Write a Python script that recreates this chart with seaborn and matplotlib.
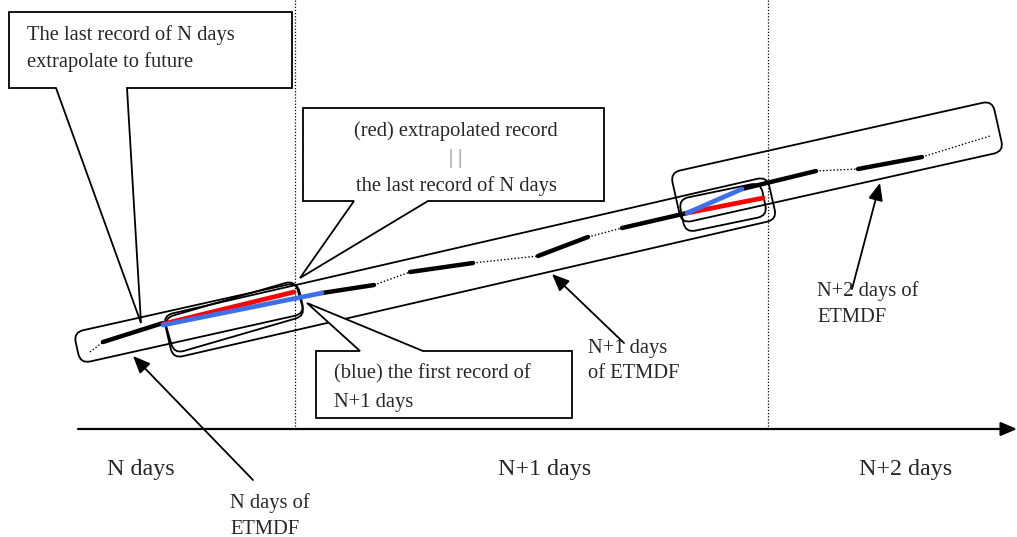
import numpy as np
import pandas as pd
import matplotlib
matplotlib.use("Agg")
import matplotlib.pyplot as plt
from matplotlib.patches import FancyBboxPatch, Polygon
from matplotlib.transforms import Affine2D
import seaborn as sns

# trajectory pieces (pixel coords of the sketch), each as ((x0, y0), (x1, y1))
track_solid = [((103, 342), (163, 323)), ((322, 293), (374, 285)),
               ((410, 272), (473, 263)), ((538, 256), (588, 237)),
               ((622, 228), (687, 213)), ((742, 189), (816, 171)),
               ((858, 169), (922, 157))]
track_dotted = [((90, 352), (103, 342)), ((374, 285), (410, 272)),
                ((473, 263), (538, 256)), ((588, 237), (622, 228)),
                ((816, 171), (858, 169)), ((922, 157), (990, 136))]
red_extrap = [((163, 324), (294, 292)), ((687, 213), (763, 198))]
blue_first = [((163, 325), (322, 293)), ((687, 213), (742, 189))]

# rounded bands: left centre, right centre, width
etmdf_bands = [((77, 348), (301, 298), 32),
               ((168, 337), (772, 198), 44),
               ((676, 198), (998, 126), 52)]
overlap_boxes = [((169, 336), (300, 298), 37),
                 ((682, 216), (764, 199), 34)]

day_edges = [295, 768]
day_labels = ["N days", "N+1 days", "N+2 days"]
day_label_x = [141, 545, 906]


def to_frame(segs):
    rows = []
    for i, (p0, p1) in enumerate(segs):
        rows.append({"seg": i, "x": p0[0], "y": p0[1]})
        rows.append({"seg": i, "x": p1[0], "y": p1[1]})
    return pd.DataFrame(rows)


def rounded_band(ax, p0, p1, w, r=10):
    dx, dy = p1[0] - p0[0], p1[1] - p0[1]
    length = np.hypot(dx, dy)
    ang = np.arctan2(dy, dx)
    patch = FancyBboxPatch((0, -w / 2), length, w,
                           boxstyle=f"round,pad=0,rounding_size={r}",
                           fc="none", ec="black", lw=1.3, zorder=2)
    patch.set_transform(Affine2D().rotate(ang).translate(p0[0], p0[1]) + ax.transData)
    ax.add_patch(patch)


sns.set_theme(style="white")
plt.rcParams["font.family"] = ["Liberation Serif", "DejaVu Serif"]

fig = plt.figure(figsize=(10.17, 5.37), dpi=100)
ax = fig.add_axes([0, 0, 1, 1])

# day boundaries
for xv in day_edges:
    ax.plot([xv, xv], [0, 430], color="black", lw=0.9, ls=(0, (1, 1.5)), zorder=1)

# time axis
ax.annotate("", xy=(1017, 429), xytext=(78, 429),
            arrowprops=dict(arrowstyle="-|>,head_length=0.7,head_width=0.3",
                            color="black", lw=1.6, mutation_scale=14,
                            shrinkA=0, shrinkB=0))

# ETMDF record trajectory
sns.lineplot(data=to_frame(track_dotted), x="x", y="y", units="seg", estimator=None,
             sort=False, color="black", lw=1.0, ls=(0, (1, 1.5)), ax=ax, zorder=3)
sns.lineplot(data=to_frame(track_solid), x="x", y="y", units="seg", estimator=None,
             sort=False, color="black", lw=3.2, ax=ax, zorder=3)
sns.lineplot(data=to_frame(red_extrap), x="x", y="y", units="seg", estimator=None,
             sort=False, color="#ff0000", lw=3.4, ax=ax, zorder=4)
sns.lineplot(data=to_frame(blue_first), x="x", y="y", units="seg", estimator=None,
             sort=False, color="#3d6fe6", lw=3.4, ax=ax, zorder=5)

for p0, p1, w in etmdf_bands + overlap_boxes:
    rounded_band(ax, p0, p1, w)

# callout boxes
callouts = [
    [(9, 12), (292, 12), (292, 88), (127, 88), (141, 323), (56, 88), (9, 88)],
    [(303, 108), (604, 108), (604, 201), (428, 201), (300, 278), (354, 201), (303, 201)],
    [(316, 351), (360, 351), (307, 303), (423, 351), (572, 351), (572, 418), (316, 418)],
]
for pts in callouts:
    ax.add_patch(Polygon(pts, closed=True, fc="white", ec="black", lw=1.3, zorder=6))

fs_small = 14.8
fs_big = 17.3
ax.text(27, 35, "The last record of N days", fontsize=fs_small, va="center", zorder=7)
ax.text(27, 62, "extrapolate to future", fontsize=fs_small, va="center", zorder=7)
ax.text(456, 131, "(red) extrapolated record", fontsize=fs_small, ha="center", va="center", zorder=7)
ax.text(456, 158, "| |", fontsize=fs_small, ha="center", va="center", color="#808080", zorder=7)
ax.text(456, 186, "the last record of N days", fontsize=fs_small, ha="center", va="center", zorder=7)
ax.text(334, 374, "(blue) the first record of", fontsize=fs_small, va="center", zorder=7)
ax.text(334, 402, "N+1 days", fontsize=fs_small, va="center", zorder=7)

# band labels with arrows
arrow_kw = dict(arrowstyle="-|>,head_length=0.75,head_width=0.32", color="black",
                lw=1.3, mutation_scale=14, shrinkA=0, shrinkB=0)
ax.annotate("", xy=(133, 356), xytext=(253, 480), arrowprops=arrow_kw, zorder=5)
ax.annotate("", xy=(552, 274), xytext=(624, 343), arrowprops=arrow_kw, zorder=5)
ax.annotate("", xy=(880, 183), xytext=(852, 289), arrowprops=arrow_kw, zorder=5)

ax.text(230, 503, "N days of", fontsize=fs_small, va="center")
ax.text(230, 529, "ETMDF", fontsize=fs_small, va="center")
ax.text(588, 348, "N+1 days", fontsize=fs_small, va="center")
ax.text(588, 374, "of ETMDF", fontsize=fs_small, va="center")
ax.text(817, 291, "N+2 days of", fontsize=fs_small, va="center")
ax.text(817, 318, "ETMDF", fontsize=fs_small, va="center")

for lab, xv in zip(day_labels, day_label_x):
    ax.text(xv, 470, lab, fontsize=fs_big, ha="center", va="center")

ax.set_xlim(0, 1017)
ax.set_ylim(537, 0)
ax.axis("off")

fig.savefig("out.png", dpi=100, facecolor="white")
